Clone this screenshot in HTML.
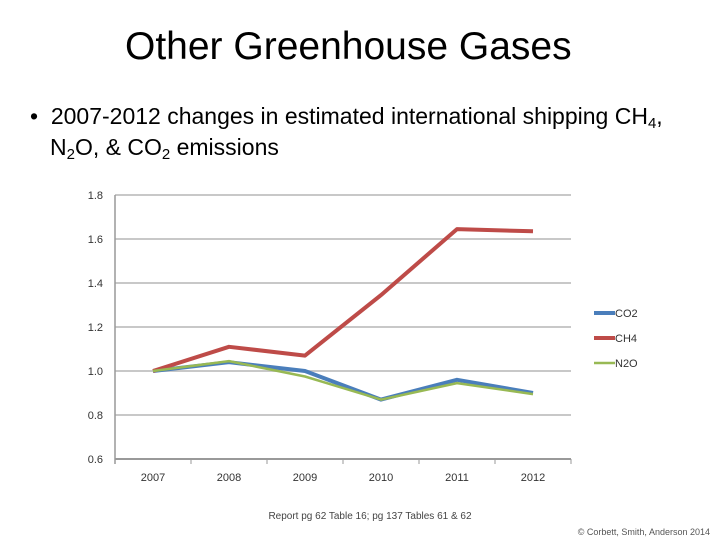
<!DOCTYPE html>
<html><head><meta charset="utf-8"><style>
body{margin:0;width:720px;height:540px;background:#fff;overflow:hidden;font-family:"Liberation Sans",sans-serif;position:relative}
.t{position:absolute}
sub{font-size:15px;line-height:0;vertical-align:-4px}
</style></head><body>
<div class="t" style="left:125px;top:25px;font-size:39px;color:#000;letter-spacing:0px">Other Greenhouse Gases</div>
<div class="t" style="left:30px;top:101px;font-size:23px;line-height:31px;color:#000;width:690px;white-space:nowrap">•&nbsp;&nbsp;2007-2012 changes in estimated international shipping CH<sub>4</sub>,<br><span style="padding-left:20px">N<sub>2</sub>O, &amp; CO<sub>2</sub> emissions</span></div>
<svg class="t" style="left:0;top:0" width="720" height="540">
<g id="grid"></g><g id="lines"></g><g id="legend"></g>
<text x="370" y="519" font-size="10" fill="#444" text-anchor="middle">Report pg 62 Table 16; pg 137 Tables 61 &amp; 62</text>
<text x="710" y="535" font-size="9" fill="#555" text-anchor="end">© Corbett, Smith, Anderson 2014</text>
</svg>
<script>
const years=['2007','2008','2009','2010','2011','2012'];
const yTicks=[0.6,0.8,1.0,1.2,1.4,1.6,1.8];
const co2=[1.0,1.04,1.0,0.87,0.96,0.90];
const ch4=[1.0,1.11,1.07,1.345,1.645,1.635];
const n2o=[1.0,1.045,0.975,0.87,0.945,0.895];
const NS='http://www.w3.org/2000/svg';
const L=115,R=571,T=195,B=459;
const y=v=>B-(v-0.6)/1.2*(B-T);
const x=i=>L+(R-L)/years.length*(i+0.5);
function mk(tag,a,p){const e=document.createElementNS(NS,tag);for(const k in a)e.setAttribute(k,a[k]);p.appendChild(e);return e;}
const g=document.getElementById('grid');
yTicks.forEach(v=>{
 const ln=mk('line',{x1:L,x2:R,y1:y(v),y2:y(v),stroke:v===0.6?'#999':'#c8c8c8','stroke-width':2},g);
 
 
 const t=mk('text',{x:L-12,y:y(v)+4,'font-size':11,fill:'#333','text-anchor':'end'},g);t.textContent=v.toFixed(1);
 
 
});
mk('line',{x1:L,x2:L,y1:T,y2:B+5,stroke:'#999','stroke-width':1.5},g);
for(let i=0;i<=years.length;i++){mk('line',{x1:L+(R-L)/years.length*i,x2:L+(R-L)/years.length*i,y1:B,y2:B+5,stroke:'#999'},g);}
years.forEach((yr,i)=>{const t=mk('text',{x:x(i),y:B+22,'font-size':11,fill:'#333','text-anchor':'middle'},g);t.textContent=yr;
 
 });
const lg=document.getElementById('lines'),leg=document.getElementById('legend');
const series=[['CO2',co2,'#4a7ebb',4],['CH4',ch4,'#be4b48',4],['N2O',n2o,'#98b954',2.5]];
series.forEach((s,k)=>{
 const p=mk('polyline',{points:s[1].map((v,i)=>x(i)+','+y(v)).join(' '),fill:'none',stroke:s[2],'stroke-width':s[3],'stroke-linejoin':'round'},lg);
 
 
 const ly=313+k*25;
 const l=mk('line',{x1:594,x2:615,y1:ly,y2:ly,stroke:s[2],'stroke-width':s[3]},leg);
 
 
 const t=mk('text',{x:615,y:ly+4,'font-size':11,fill:'#333'},leg);t.textContent=s[0];
 
 
});
</script>
</body></html>
